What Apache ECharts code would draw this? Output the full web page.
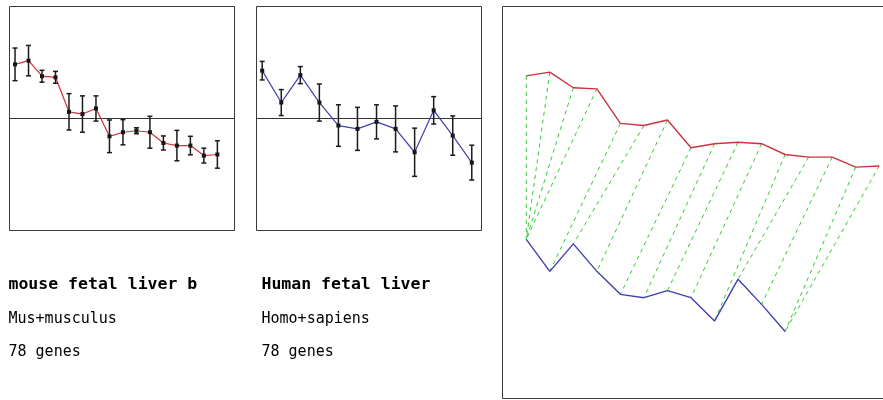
<!DOCTYPE html>
<html>
<head>
<meta charset="utf-8">
<script src="https://cdn.jsdelivr.net/npm/echarts@6/dist/echarts.min.js"></script>
<style>
  html, body { margin: 0; padding: 0; background: #fff; }
  #chart { width: 883px; height: 400px; }
</style>
</head>
<body>
<div id="chart"></div>
<script>
// Mean log-ratio per time point and its spread (± sd) for each data set
const mouseMean = [1.46, 1.56, 1.14, 1.11, 0.18, 0.12, 0.27, -0.48, -0.37, -0.33, -0.37, -0.66, -0.73, -0.73, -1.00, -0.97];
const mouseSd   = [0.44, 0.41, 0.16, 0.16, 0.49, 0.49, 0.34, 0.44, 0.34, 0.08, 0.43, 0.19, 0.41, 0.25, 0.20, 0.37];
const humanMean = [1.29, 0.43, 1.17, 0.43, -0.19, -0.28, -0.09, -0.28, -0.91, 0.22, -0.46, -1.19];
const humanSd   = [0.25, 0.35, 0.23, 0.50, 0.56, 0.58, 0.46, 0.62, 0.65, 0.37, 0.53, 0.47];

// Warping path between the two profiles: [mouse time point, human time point]
const alignPath = [[0, 0], [1, 0], [2, 0], [3, 0], [4, 1], [5, 2], [6, 3], [7, 4],
                   [8, 5], [9, 6], [10, 7], [11, 8], [12, 9], [13, 10], [14, 11], [15, 11]];

// Captions under the two profile panels
const panelTitles  = ['mouse fetal liver b', 'Human fetal liver'];
const speciesNames = ['Mus+musculus', 'Homo+sapiens'];
const geneCounts   = [78, 78];

// ---- layout / styling ----
const Y_HALF = 3.02;           // profile panels span ±Y_HALF
const PX_PER_UNIT = 37.1;      // same vertical scale in the alignment panel
const RIGHT_H = 392;
const RIGHT_HALF = RIGHT_H / 2 / PX_PER_UNIT;
const RED_SHIFT = 1.954;       // mouse curve is lifted in the alignment panel
const BLUE_SHIFT = -2.286;     // human curve is lowered in the alignment panel
const MONO = '"DejaVu Sans Mono", "Liberation Mono", monospace';
const RED = '#cc3340';
const BLUE = '#4040b0';
const GREEN = '#33cc33';

function errorBarItem(params, api) {
  const x = api.value(0);
  const lo = api.coord([x, api.value(1)]);
  const hi = api.coord([x, api.value(2)]);
  const w = 2.5;
  const style = { stroke: '#1a1a1a', lineWidth: 1.5, fill: null };
  return {
    type: 'group',
    children: [
      { type: 'line', shape: { x1: lo[0], y1: lo[1], x2: hi[0], y2: hi[1] }, style },
      { type: 'line', shape: { x1: hi[0] - w, y1: hi[1], x2: hi[0] + w, y2: hi[1] }, style },
      { type: 'line', shape: { x1: lo[0] - w, y1: lo[1], x2: lo[0] + w, y2: lo[1] }, style }
    ]
  };
}

function linkItem(params, api) {
  const a = api.coord([api.value(0), api.value(1)]);
  const b = api.coord([api.value(2), api.value(3)]);
  return {
    type: 'line',
    shape: { x1: a[0], y1: a[1], x2: b[0], y2: b[1] },
    style: { stroke: GREEN, lineWidth: 1, lineDash: [4, 4], fill: null }
  };
}

const hiddenAxis = (min, max, gridIndex) => ({
  type: 'value', gridIndex, min, max,
  axisLine: { show: false }, axisTick: { show: false },
  axisLabel: { show: false }, splitLine: { show: false }
});
const profileX = (min, max, gridIndex) => ({
  type: 'value', gridIndex, min, max,
  axisLine: { show: true, onZero: true, lineStyle: { color: '#333', width: 1 } },
  axisTick: { show: false }, axisLabel: { show: false }, splitLine: { show: false }
});

const gridBox = {
  show: true, borderColor: '#3a3a3a', borderWidth: 1, backgroundColor: '#fff',
  containLabel: false, outerBoundsMode: 'none'
};

const captionText = (x, y, text, bold) => ({
  type: 'text', x, y, silent: true,
  style: {
    text, fill: '#000',
    font: (bold ? 'bold 16.5px ' : '15px ') + MONO,
    align: 'left', verticalAlign: 'middle'
  }
});

const option = {
  animation: false,
  backgroundColor: '#fff',
  grid: [
    Object.assign({ left: 9.5, top: 6.5, width: 225, height: 224 }, gridBox),
    Object.assign({ left: 256.5, top: 6.5, width: 225, height: 224 }, gridBox),
    // the alignment panel runs past the right edge of the canvas
    Object.assign({ left: 502.5, top: 6.5, width: 405, height: RIGHT_H }, gridBox)
  ],
  xAxis: [
    profileX(-0.41, 16.27, 0),
    profileX(-0.30, 11.51, 1),
    hiddenAxis(-1.01, 16.2, 2)
  ],
  yAxis: [
    hiddenAxis(-Y_HALF, Y_HALF, 0),
    hiddenAxis(-Y_HALF, Y_HALF, 1),
    hiddenAxis(-RIGHT_HALF, RIGHT_HALF, 2)
  ],
  series: [
    {
      type: 'line', xAxisIndex: 0, yAxisIndex: 0, z: 2,
      data: mouseMean.map((v, i) => [i, v]),
      lineStyle: { color: RED, width: 1.2 },
      symbol: 'rect', symbolSize: 4, showAllSymbol: true,
      itemStyle: { color: '#111' }
    },
    {
      type: 'custom', xAxisIndex: 0, yAxisIndex: 0, z: 3,
      renderItem: errorBarItem,
      encode: { x: 0, y: [1, 2] },
      data: mouseMean.map((v, i) => [i, v - mouseSd[i], v + mouseSd[i]])
    },
    {
      type: 'line', xAxisIndex: 1, yAxisIndex: 1, z: 2,
      data: humanMean.map((v, i) => [i, v]),
      lineStyle: { color: BLUE, width: 1.2 },
      symbol: 'rect', symbolSize: 4, showAllSymbol: true,
      itemStyle: { color: '#111' }
    },
    {
      type: 'custom', xAxisIndex: 1, yAxisIndex: 1, z: 3,
      renderItem: errorBarItem,
      encode: { x: 0, y: [1, 2] },
      data: humanMean.map((v, i) => [i, v - humanSd[i], v + humanSd[i]])
    },
    {
      type: 'custom', xAxisIndex: 2, yAxisIndex: 2, z: 1,
      renderItem: linkItem,
      encode: { x: [0, 2], y: [1, 3] },
      data: alignPath.map(([m, h]) => [m, mouseMean[m] + RED_SHIFT, h, humanMean[h] + BLUE_SHIFT])
    },
    {
      type: 'line', xAxisIndex: 2, yAxisIndex: 2, z: 2,
      data: mouseMean.map((v, i) => [i, v + RED_SHIFT]),
      lineStyle: { color: RED, width: 1.4 }, symbol: 'none'
    },
    {
      type: 'line', xAxisIndex: 2, yAxisIndex: 2, z: 2,
      data: humanMean.map((v, i) => [i, v + BLUE_SHIFT]),
      lineStyle: { color: BLUE, width: 1.4 }, symbol: 'none'
    }
  ],
  graphic: [
    captionText(8.5, 284.5, panelTitles[0], true),
    captionText(261.5, 284.5, panelTitles[1], true),
    captionText(8.5, 319, speciesNames[0], false),
    captionText(261.5, 319, speciesNames[1], false),
    captionText(8.5, 352.5, geneCounts[0] + ' genes', false),
    captionText(261.5, 352.5, geneCounts[1] + ' genes', false)
  ]
};

const chart = echarts.init(document.getElementById('chart'), null, { renderer: 'canvas' });
chart.setOption(option);
</script>
</body>
</html>
